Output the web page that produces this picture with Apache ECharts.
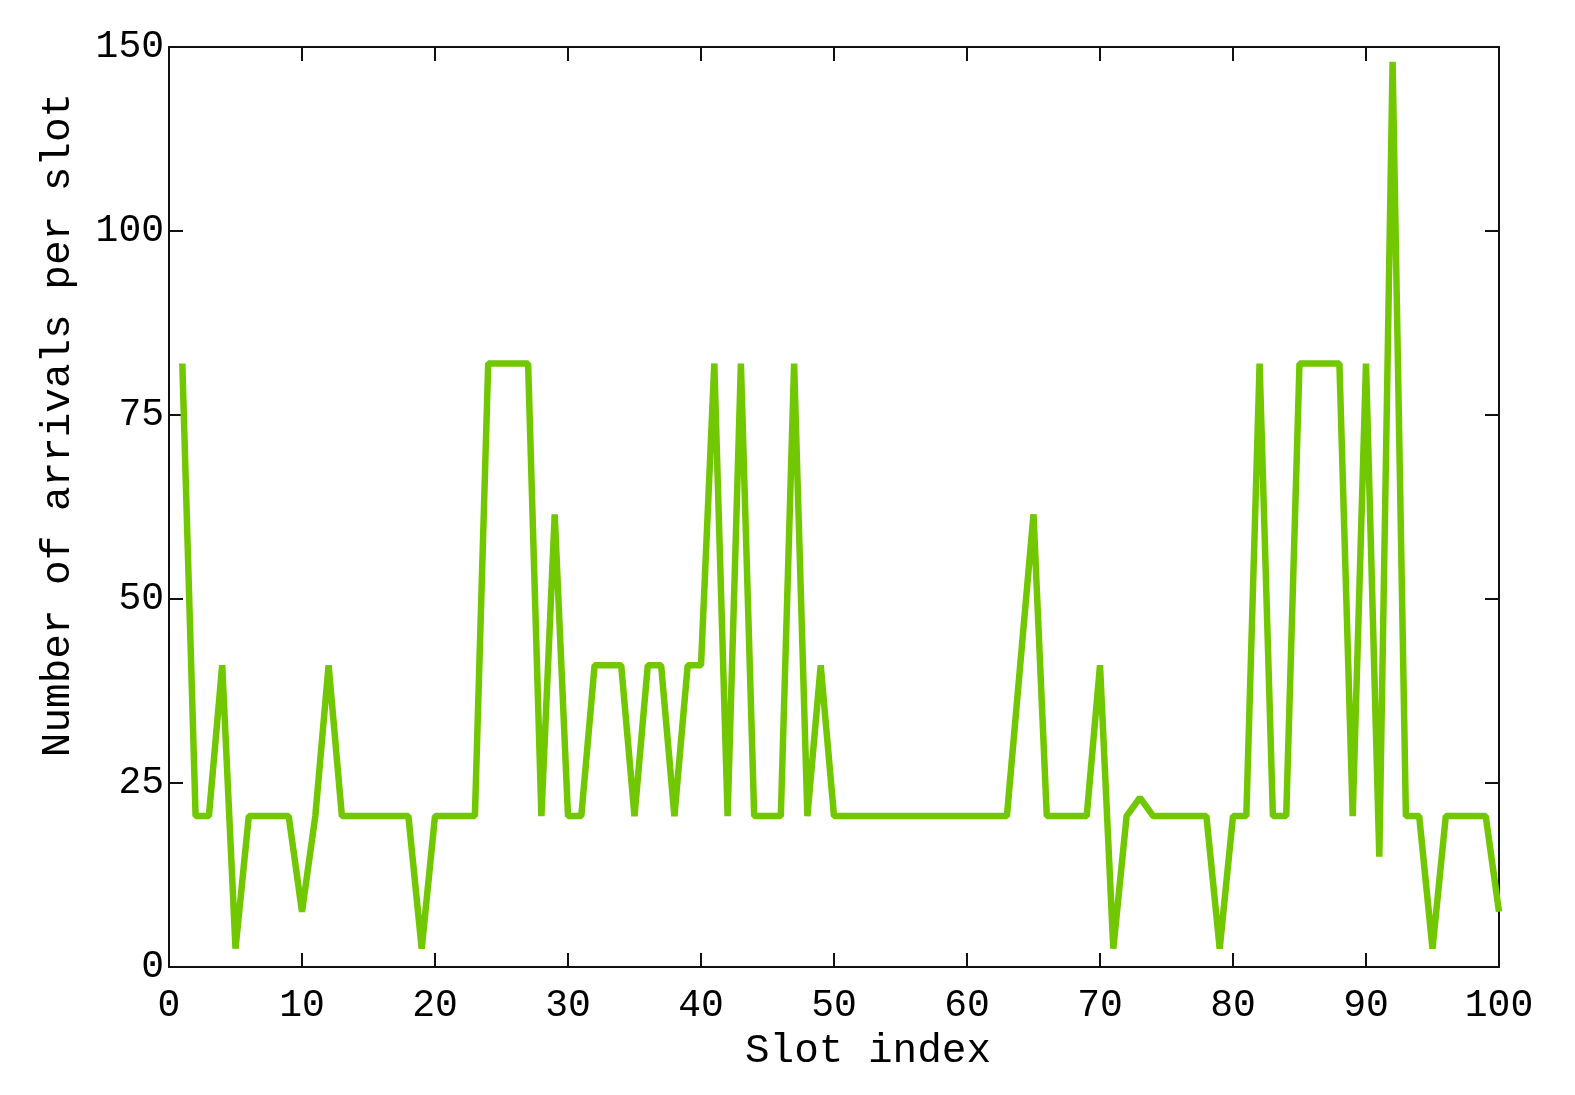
<!DOCTYPE html>
<html>
<head>
<meta charset="utf-8">
<title>Arrivals per slot</title>
<script src="https://cdn.jsdelivr.net/npm/echarts@6/dist/echarts.min.js"></script>
<style>
  html, body { margin: 0; padding: 0; background: #fff; }
  #chart { width: 1575px; height: 1095px; }
</style>
</head>
<body>
<div id="chart"></div>
<script>
// slot indices 1..100
const slots = [
  1, 2, 3, 4, 5, 6, 7, 8, 9, 10,
  11, 12, 13, 14, 15, 16, 17, 18, 19, 20,
  21, 22, 23, 24, 25, 26, 27, 28, 29, 30,
  31, 32, 33, 34, 35, 36, 37, 38, 39, 40,
  41, 42, 43, 44, 45, 46, 47, 48, 49, 50,
  51, 52, 53, 54, 55, 56, 57, 58, 59, 60,
  61, 62, 63, 64, 65, 66, 67, 68, 69, 70,
  71, 72, 73, 74, 75, 76, 77, 78, 79, 80,
  81, 82, 83, 84, 85, 86, 87, 88, 89, 90,
  91, 92, 93, 94, 95, 96, 97, 98, 99, 100
]

// arrivals
const arrivals = [
  82, 20.5, 20.5, 41, 2.5, 20.5, 20.5, 20.5, 20.5, 7.5,
  20.5, 41, 20.5, 20.5, 20.5, 20.5, 20.5, 20.5, 2.5, 20.5,
  20.5, 20.5, 20.5, 82, 82, 82, 82, 20.5, 61.5, 20.5,
  20.5, 41, 41, 41, 20.5, 41, 41, 20.5, 41, 41,
  82, 20.5, 82, 20.5, 20.5, 20.5, 82, 20.5, 41, 20.5,
  20.5, 20.5, 20.5, 20.5, 20.5, 20.5, 20.5, 20.5, 20.5, 20.5,
  20.5, 20.5, 20.5, 41, 61.5, 20.5, 20.5, 20.5, 20.5, 41,
  2.5, 20.5, 23, 20.5, 20.5, 20.5, 20.5, 20.5, 2.5, 20.5,
  20.5, 82, 20.5, 20.5, 82, 82, 82, 82, 20.5, 82,
  15, 123, 20.5, 20.5, 2.5, 20.5, 20.5, 20.5, 20.5, 7.5
]

// y tick labels as printed on the figure (top one reads 150)
const yTickValues = [0, 25, 50, 75, 100, 125]
const yTickLabels = ['0', '25', '50', '75', '100', '150']

const font = "'Liberation Mono', 'Courier New', monospace"
const lineColor = '#72c800'
const axisColor = '#111'

const chart = echarts.init(document.getElementById('chart'))

const boxLine = { show: true, onZero: false, lineStyle: { color: axisColor, width: 2 } }
const tickInside = { show: true, inside: true, length: 14, lineStyle: { color: axisColor, width: 2 } }

const option = {
  animation: false,
  backgroundColor: '#fff',
  grid: { left: 169, right: 76, top: 47, bottom: 128 },
  xAxis: [
    {
      type: 'value',
      min: 0,
      max: 100,
      interval: 10,
      name: 'Slot index',
      nameLocation: 'middle',
      nameGap: 64,
      nameTextStyle: { fontFamily: font, fontSize: 41, color: '#000', padding: [0, 0, 0, 68] },
      axisLine: boxLine,
      axisTick: tickInside,
      axisLabel: { fontFamily: font, fontSize: 38, color: '#000', margin: 20 },
      splitLine: { show: false }
    },
    {
      type: 'value',
      position: 'top',
      min: 0,
      max: 100,
      interval: 10,
      axisLine: boxLine,
      axisTick: tickInside,
      axisLabel: { show: false },
      splitLine: { show: false }
    }
  ],
  yAxis: [
    {
      type: 'value',
      min: 0,
      max: 125,
      interval: 25,
      name: 'Number of arrivals per slot',
      nameLocation: 'middle',
      nameGap: 90,
      nameRotate: 90,
      nameTextStyle: { fontFamily: font, fontSize: 41, color: '#000', padding: [0, 0, 0, 164] },
      axisLine: boxLine,
      axisTick: tickInside,
      axisLabel: {
        fontFamily: font,
        fontSize: 38,
        color: '#000',
        margin: 5,
        formatter: (v) => {
          const i = yTickValues.indexOf(v)
          return i >= 0 ? yTickLabels[i] : ''
        }
      },
      splitLine: { show: false }
    },
    {
      type: 'value',
      position: 'right',
      min: 0,
      max: 125,
      interval: 25,
      axisLine: boxLine,
      axisTick: tickInside,
      axisLabel: { show: false },
      splitLine: { show: false }
    }
  ],
  series: [
    {
      type: 'line',
      data: slots.map((s, i) => [s, arrivals[i]]),
      showSymbol: false,
      lineStyle: { color: lineColor, width: 6.5 },
      clip: true
    }
  ]
}

chart.setOption(option)
</script>
</body>
</html>
